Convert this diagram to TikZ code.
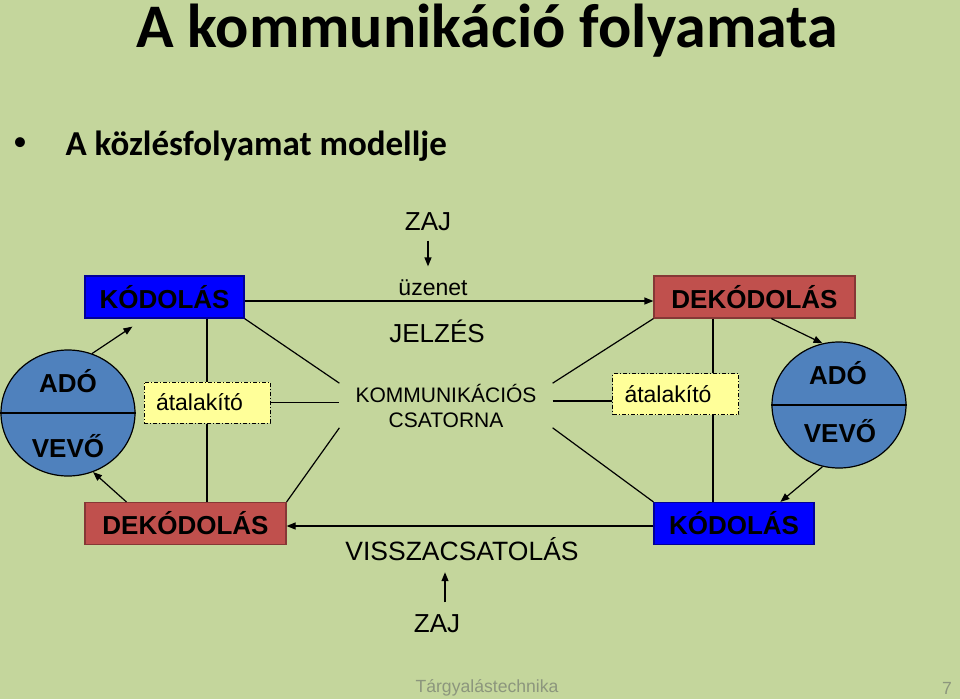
\documentclass[tikz,border=0pt]{standalone}
\usepackage{fontspec}
\setmainfont{Liberation Sans}
\newfontfamily\calibri{Carlito}
\usepackage{xcolor}
\usetikzlibrary{shapes.geometric, arrows.meta, positioning}

\definecolor{slidebg}{RGB}{196,214,156}
\definecolor{kodblue}{RGB}{0,0,255}
\definecolor{dekred}{RGB}{192,80,77}
\definecolor{adoblue}{RGB}{79,129,189}
\definecolor{atyellow}{RGB}{255,255,153}
\definecolor{footgray}{RGB}{140,150,125}

\begin{document}
\begin{tikzpicture}[
    x=1pt, y=-1pt,
    line width=1.2pt,
    box/.style={draw, rectangle, inner sep=0pt, minimum height=42, font=\fontsize{26}{30}\selectfont\bfseries},
    conv/.style={draw, rectangle, fill=atyellow, dash pattern=on 4pt off 2pt on 1pt off 2pt, line width=1pt, inner xsep=12pt, inner ysep=0pt, text width=102pt, align=left, minimum height=41, font=\fontsize{23}{27}\selectfont},
    party/.style={draw, ellipse, fill=adoblue, inner sep=0pt, minimum width=134, minimum height=126},
    txt/.style={inner sep=0pt, font=\fontsize{26}{30}\selectfont},
    who/.style={inner sep=0pt, font=\fontsize{26}{30}\selectfont\bfseries},
    arrow/.style={-{Triangle[length=9pt, width=7pt]}}
]
    % Slide
    \fill[slidebg] (0,0) rectangle (960,699);
    \useasboundingbox (0,0) rectangle (960,699);

    % Headings
    \node[inner sep=0pt, anchor=base, font=\calibri\bfseries\fontsize{62}{68}\selectfont] (title) at (487,47) {A kommunikáció folyamata};
    \node[inner sep=0pt, anchor=base west, font=\calibri\bfseries\fontsize{35}{40}\selectfont] (subtitle) at (65,155) {A közlésfolyamat modellje};
    \node[inner sep=0pt, anchor=base, font=\calibri\fontsize{28}{32}\selectfont] (bullet) at (20,150) {•};

    % Sender side
    \node[party] (partyL) at (68,413) {};
    \draw (partyL.west) -- (partyL.east);
    \node[who] (adoL) at (68,381) {ADÓ};
    \node[who] (vevoL) at (68,446) {VEVŐ};
    \node[box, fill=kodblue, draw=kodblue!60!black, minimum width=159] (kodTop) at (164.5,297) {KÓDOLÁS};
    \node[conv] (convL) at (207,402.5) {átalakító};
    \node[box, fill=dekred, draw=dekred!70!black, minimum width=201] (dekBot) at (185.5,523.5) {DEKÓDOLÁS};

    % Receiver side
    \node[party] (partyR) at (839,405) {};
    \draw (partyR.west) -- (partyR.east);
    \node[who] (adoR) at (838,373) {ADÓ};
    \node[who] (vevoR) at (840,431) {VEVŐ};
    \node[box, fill=dekred, draw=dekred!70!black, minimum width=201] (dekTop) at (754.5,297) {DEKÓDOLÁS};
    \node[conv] (convR) at (675.5,394) {átalakító};
    \node[box, fill=kodblue, draw=kodblue!60!black, minimum width=160] (kodBot) at (734,523.5) {KÓDOLÁS};
    \coordinate (tapR) at (713,0);

    % Channel
    \node[txt, align=center, minimum width=212, minimum height=43, font=\fontsize{21}{25}\selectfont] (channel) at (446,405.5) {KOMMUNIKÁCIÓS\\CSATORNA};
    \node[txt, font=\fontsize{23}{27}\selectfont] (uzenet) at (433,288) {üzenet};
    \node[txt] (jelzes) at (437,331) {JELZÉS};
    \node[txt] (zajTop) at (428,222) {ZAJ};
    \node[txt, font=\fontsize{26.5}{30}\selectfont] (vissza) at (462,549) {VISSZACSATOLÁS};
    \node[txt] (zajBot) at (437,624) {ZAJ};

    % Footer
    \node[inner sep=0pt, text=footgray, font=\fontsize{17.6}{20}\selectfont] (footer) at (487,688) {Tárgyalástechnika};
    \node[inner sep=0pt, text=footgray, font=\fontsize{17.6}{20}\selectfont] (pagenum) at (947,688) {7};

    % Connections
    \draw[arrow] ([yshift=-4]kodTop.east) -- ([yshift=-4]dekTop.west);
    \draw[arrow] (kodBot.west |- 0,526) -- (dekBot.east |- 0,526);
    \draw[arrow, shorten <=9, shorten >=13] (zajTop.south) -- (zajTop.south |- uzenet.north);
    \draw[arrow, shorten <=12, shorten >=11] ([xshift=8]zajBot.north) -- ([xshift=8]zajBot.north |- vissza.south);

    \draw (kodTop.south -| convL.north) -- (convL.north);
    \draw (convL.south) -- (dekBot.north -| convL.south);
    \draw (dekTop.south -| tapR) -- (convR.north -| tapR);
    \draw (convR.south -| tapR) -- (kodBot.north -| tapR);
    \draw (convL.east) -- (convL.east -| channel.west);
    \draw (channel.east |- 0,401) -- (convR.west |- 0,401);

    \draw (kodTop.south east) -- (channel.north west);
    \draw (dekTop.south west) -- (channel.north east);
    \draw (channel.south west) -- (dekBot.north east);
    \draw (channel.south east) -- (kodBot.north west);

    \draw[arrow] (partyL.68) -- ([xshift=48,yshift=-8]kodTop.south west);
    \draw[arrow] ([xshift=42]dekBot.north west) -- (partyL.-67);
    \draw[arrow] ([xshift=118]dekTop.south west) -- (partyR.105);
    \draw[arrow] (partyR.-105) -- ([xshift=127]kodBot.north west);
\end{tikzpicture}
\end{document}
